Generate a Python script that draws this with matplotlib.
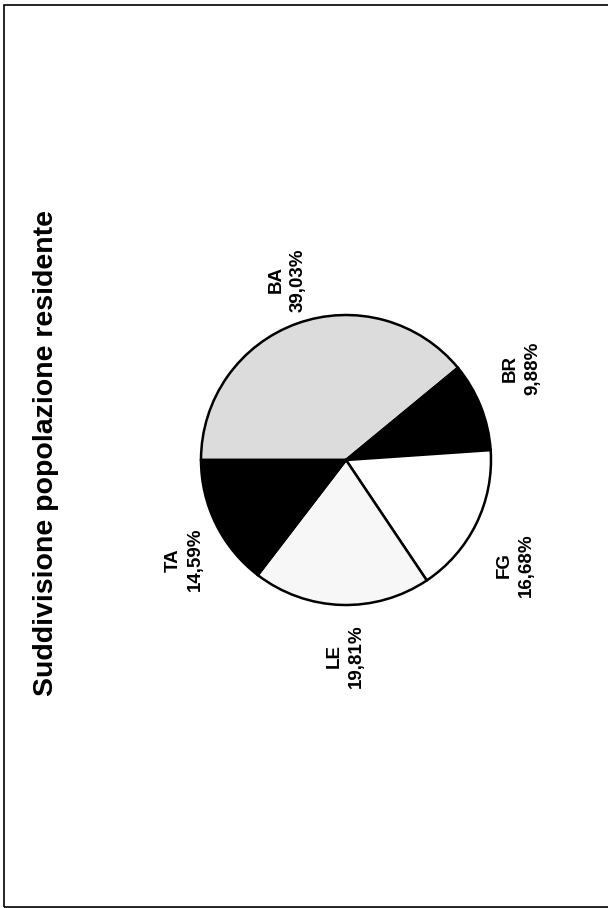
import matplotlib.pyplot as plt
from matplotlib.patches import Rectangle

plt.rcParams['font.family'] = ['Liberation Sans', 'DejaVu Sans']

# Province shares of resident population (%)
provinces = ['BA', 'BR', 'FG', 'LE', 'TA']
shares = [39.03, 9.88, 16.68, 19.81, 14.59]
colors = ['#dcdcdc', '#000000', '#ffffff', '#f7f7f7', '#000000']
title = 'Suddivisione popolazione residente'

# small pixel nudges for the outside labels (x, y)
nudges = {'BA': (6, 0), 'BR': (-2, 21), 'FG': (-3, -21), 'LE': (5, -5), 'TA': (10, -15)}

W, H = 608, 908
fig = plt.figure(figsize=(W / 100, H / 100), dpi=100)
ax = fig.add_axes([0, 0, 1, 1])

# page frame of the scanned sheet
ax.add_patch(Rectangle((4, 1), W + 20, H - 6, fill=False, edgecolor='black', lw=1.2))

labels = [f'{p}\n{str(v).replace(".", ",")}%' for p, v in zip(provinces, shares)]
wedges, texts = ax.pie(shares, labels=labels, colors=colors, startangle=180,
                       counterclock=False, center=(346, H - 460), radius=145,
                       labeldistance=1.32, frame=True,
                       wedgeprops=dict(edgecolor='black', linewidth=1.8))
ax.set_xlim(0, W)
ax.set_ylim(0, H)
ax.set_aspect('equal')
ax.axis('off')

for p, t in zip(provinces, texts):
    x, y = t.get_position()
    dx, dy = nudges[p]
    t.set_position((x + dx, y + dy))
    t.set_rotation(90)
    t.set_ha('center')
    t.set_va('center')
    t.set_rotation_mode('anchor')
    t.set_fontsize(13.5)
    t.set_fontweight('bold')
    t.set_linespacing(1.4)

ax.text(46, H - 453, title, rotation=90, ha='center', va='center',
        fontsize=20.5, fontweight='bold')

fig.savefig('out.png', dpi=100)
